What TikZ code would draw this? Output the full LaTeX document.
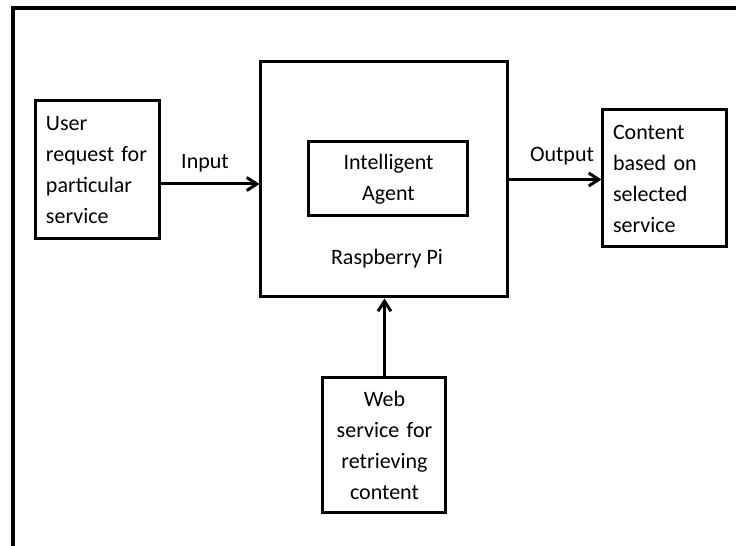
\documentclass[tikz,border=0pt]{standalone}
\usepackage{fontspec}
\setmainfont{Carlito}
\usetikzlibrary{arrows.meta}
\begin{document}
\begin{tikzpicture}[x=0.5pt,y=-0.5pt,
    font=\fontsize{11}{15.5}\selectfont,
    box/.style={draw=black,line width=1.5pt,inner sep=0pt},
    textbox/.style={box,inner xsep=5pt,text width=52pt,align=left},
    arr/.style={line width=1.5pt,-{Straight Barb[length=5pt,width=6.5pt]}}]
    \useasboundingbox (0,0) rectangle (736,546);
    \draw[line width=1.8pt] (13,546) -- (13,8) -- (736,8);
    % boxes
    \node[textbox,minimum width=62pt,minimum height=69pt] (user) at (98,170)
      {User\\request for\\particular\\service};
    \node[box,minimum width=123.5pt,minimum height=117.5pt] (rpi) at (384.5,179.5) {};
    \node[box,align=center,minimum width=79.5pt,minimum height=37pt] (agent) at (388.5,179)
      {Intelligent\\Agent};
    \node (rpilabel) at (387,259) {Raspberry Pi};
    \node[textbox,minimum width=62pt,minimum height=68.5pt] (content) at (665,178.5)
      {Content\\based on\\selected\\service};
    \node[box,align=center,text width=61.5pt,minimum height=67.5pt] (web) at (384.5,445.5)
      {Web\\service for\\retrieving\\content};
    % labels
    \node (input) at (205,163) {Input};
    \node (output) at (562,156) {Output};
    % arrows
    \draw[arr] ([yshift=-7pt]user.east) -- ([yshift=-7pt]user.east -| rpi.west);
    \draw[arr] (rpi.east) -- (rpi.east -| content.west);
    \draw[arr] (web.north) -- (web.north |- rpi.south);
\end{tikzpicture}
\end{document}
